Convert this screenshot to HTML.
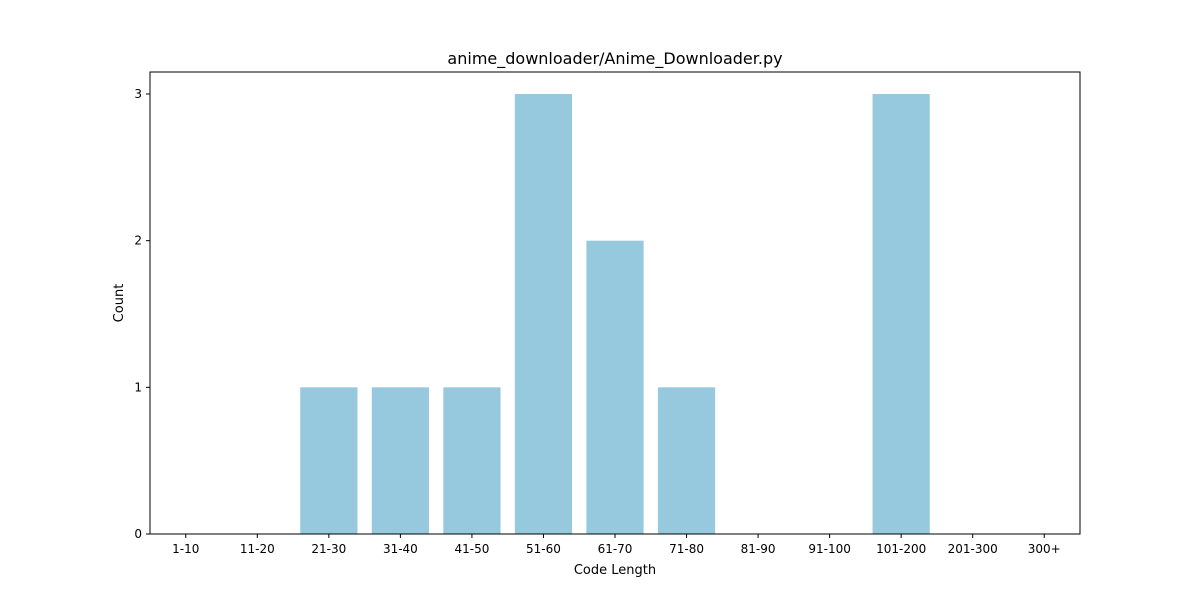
<!DOCTYPE html>
<html><head><meta charset="utf-8"><style>
body{margin:0;background:#fff;}
svg text{font-family:"DejaVu Sans","Liberation Sans",sans-serif;}
</style></head><body>
<svg width="1200" height="600" id="chart">
<rect x="0" y="0" width="1200" height="600" fill="#fff"/>
<text x="615" y="64" font-size="16" text-anchor="middle">anime_downloader/Anime_Downloader.py</text>
<g id="bars"></g>
<g id="axes"></g>
<rect x="150" y="72" width="930" height="462" fill="none" stroke="#000" stroke-width="1"/>
<text x="615" y="574" font-size="13" text-anchor="middle">Code Length</text>
<text x="123" y="303" font-size="13" text-anchor="middle" transform="rotate(-90 123 303)">Count</text>
</svg>
<script>
const categories=["1-10","11-20","21-30","31-40","41-50","51-60","61-70","71-80","81-90","91-100","101-200","201-300","300+"];
const counts=[0,0,1,1,1,3,2,1,0,0,3,0,0];
const yTicks=[0,1,2,3];
const L=150,R=1080,T=72,B=534,yMax=3.15;
const NS="http://www.w3.org/2000/svg";
const step=(R-L)/categories.length;
const xc=i=>L+step*(i+0.5);
const y=v=>B-(v/yMax)*(B-T);
const bars=document.getElementById('bars'),axes=document.getElementById('axes');
function mk(t,a,p){const e=document.createElementNS(NS,t);for(const k in a)e.setAttribute(k,a[k]);p.appendChild(e);return e;}
categories.forEach((c,i)=>{
  const w=step*0.8;
  const r=mk('rect',{x:xc(i)-w/2,y:y(counts[i]),width:w,height:B-y(counts[i]),fill:'#96c9dd'},bars);
  
  
  const tk=mk('line',{x1:xc(i),x2:xc(i),y1:B,y2:B+4,stroke:'#000'},axes);
  
  
  const t=mk('text',{x:xc(i),y:B+19,'font-size':12,'text-anchor':'middle'},axes);
  t.textContent=c;
  
  
});
yTicks.forEach(v=>{
  const tk=mk('line',{x1:L-4,x2:L,y1:y(v),y2:y(v),stroke:'#000'},axes);
  
  
  const t=mk('text',{x:L-8,y:y(v)+4,'font-size':12,'text-anchor':'end'},axes);
  t.textContent=v;
  
  
});
</script>
</body></html>
